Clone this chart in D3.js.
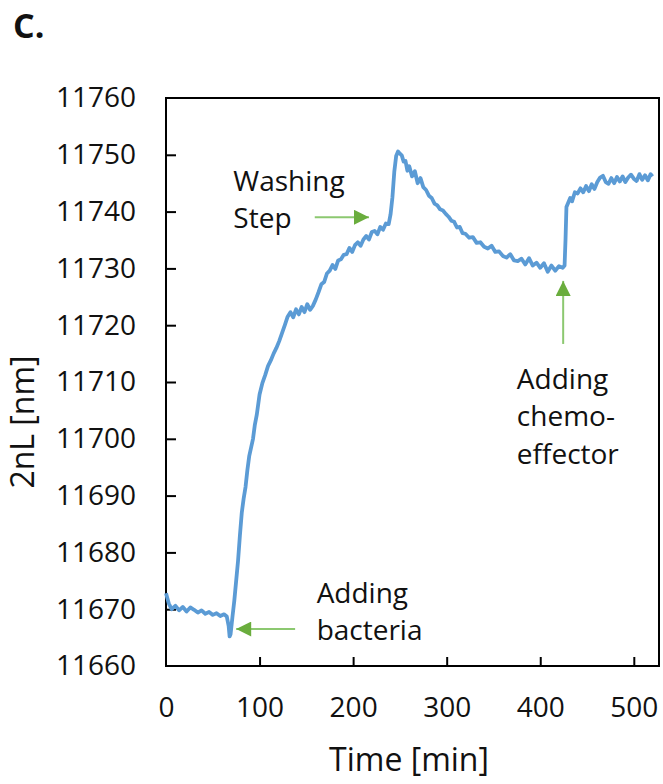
<!DOCTYPE html>
<html>
<head>
<meta charset="utf-8">
<script src="https://cdn.jsdelivr.net/npm/d3@7"></script>
<style>
  body { margin: 0; background: #fff; }
  text { font-family: "Open Sans", sans-serif; fill: #111; }
</style>
</head>
<body>
<script>

// DATI
//
var xTicks = [0, 100, 200, 300, 400, 500];
var yTicks = [11660, 11670, 11680, 11690, 11700, 11710, 11720, 11730, 11740, 11750, 11760];

// [tempo in min, 2nL in nm]
var trace = [
  [0, 11672.8], [3, 11671.0], [6, 11670.0], [10, 11670.6], [14, 11669.8], [18, 11670.4],
  [22, 11669.6], [26, 11670.3], [30, 11669.9], [34, 11669.4], [38, 11669.8], [42, 11669.2],
  [46, 11669.5], [50, 11669.0], [54, 11669.3], [58, 11668.8], [62, 11669.1], [65, 11668.7],
  [67, 11667.0], [68, 11665.2], [69, 11665.6], [71, 11668.6], [73, 11671.5], [75, 11675.0],
  [77, 11678.5], [79, 11683.0], [81, 11687.0], [83, 11689.5], [85, 11691.5], [87, 11694.5],
  [89, 11697.0], [91, 11698.5], [93, 11700.0], [95, 11702.5], [97, 11704.2], [100, 11707.8],
  [103, 11709.8], [106, 11711.2], [109, 11712.8], [112, 11713.8], [115, 11715.0], [118, 11716.0],
  [121, 11717.2], [124, 11718.6], [127, 11720.0], [130, 11721.5], [133, 11722.3], [136, 11721.4],
  [139, 11722.8], [142, 11721.9], [145, 11723.2], [148, 11722.3], [151, 11723.7], [154, 11722.7],
  [157, 11723.4], [160, 11724.5], [163, 11725.8], [166, 11727.2], [169, 11727.6], [172, 11729.1],
  [175, 11729.6], [178, 11730.6], [181, 11729.9], [184, 11731.4], [187, 11731.6], [190, 11732.4],
  [193, 11732.5], [196, 11733.6], [199, 11732.9], [202, 11734.1], [205, 11734.6], [208, 11734.0],
  [211, 11735.1], [214, 11735.7], [217, 11735.1], [220, 11736.4], [223, 11736.6], [226, 11736.0],
  [229, 11737.3], [232, 11736.8], [235, 11737.9], [238, 11737.8], [240, 11739.5], [242, 11742.5],
  [244, 11747.0], [246, 11749.8], [248, 11750.6], [250, 11750.2], [252, 11749.9], [254, 11748.8],
  [256, 11748.9], [258, 11747.2], [260, 11748.0], [263, 11746.2], [266, 11747.1], [269, 11745.0],
  [272, 11745.9], [275, 11744.3], [278, 11743.8], [281, 11742.8], [284, 11742.4], [287, 11741.4],
  [290, 11741.1], [293, 11740.4], [296, 11740.2], [299, 11739.6], [302, 11739.1], [305, 11738.4],
  [308, 11738.2], [311, 11737.2], [314, 11737.3], [317, 11736.2], [320, 11736.1], [324, 11735.4],
  [328, 11735.5], [332, 11734.5], [336, 11734.6], [340, 11733.8], [344, 11733.5], [348, 11734.0],
  [352, 11732.9], [356, 11733.0], [360, 11732.2], [364, 11731.9], [368, 11732.5], [372, 11731.4],
  [376, 11731.3], [380, 11731.7], [384, 11730.7], [388, 11731.8], [392, 11730.5], [396, 11731.0],
  [400, 11730.1], [404, 11730.9], [408, 11729.4], [412, 11730.5], [416, 11729.6], [420, 11730.4],
  [424, 11730.1], [426, 11730.5], [427, 11735.0], [428, 11740.8], [430, 11741.6], [432, 11742.4],
  [434, 11741.8], [437, 11743.4], [440, 11743.2], [443, 11744.1], [446, 11743.4], [449, 11744.5],
  [452, 11743.6], [455, 11744.8], [458, 11744.0], [461, 11745.2], [464, 11746.0], [467, 11746.3],
  [470, 11745.2], [473, 11744.9], [476, 11745.9], [479, 11745.0], [482, 11746.1], [485, 11745.3],
  [488, 11746.2], [491, 11745.2], [494, 11746.0], [497, 11746.5], [500, 11745.8], [503, 11745.4],
  [506, 11746.6], [509, 11745.6], [512, 11746.4], [515, 11745.5], [518, 11746.6], [520, 11746.2]
];

// ANNOTAZIONI: testo (prima riga) e freccia, in unita' dei dati
//
var notes = [
  { lines: ["Washing", "Step"], tx: 72, ty: 11743.7, from: [159, 11739.0], to: [217, 11739.0] },
  { lines: ["Adding", "bacteria"], tx: 161, ty: 11671.1, from: [138, 11666.5], to: [75, 11666.5] },
  { lines: ["Adding", "chemo-", "effector"], tx: 375, ty: 11708.8, from: [424.5, 11716.7], to: [424.5, 11727.8] }
];

var W = 663, H = 784;
var margin = { left: 166, right: 3, top: 98, bottom: 118 };

var svg = d3.select("body").append("svg")
  .attr("width", W)
  .attr("height", H);

var x = d3.scaleLinear().domain([0, 528]).range([margin.left, W - margin.right]);
var y = d3.scaleLinear().domain([11660, 11760]).range([H - margin.bottom, margin.top]);

// assi: tacche verso l'interno
var gx = svg.append("g")
  .attr("transform", "translate(0," + y(11660) + ")")
  .call(d3.axisBottom(x).tickValues(xTicks).tickSize(-9).tickPadding(31).tickFormat(d3.format("d")));

var gy = svg.append("g")
  .attr("transform", "translate(" + x(0) + ",0)")
  .call(d3.axisLeft(y).tickValues(yTicks).tickSize(-10).tickPadding(30).tickFormat(d3.format("d")));

[gx, gy].forEach(function(g) {
  g.select(".domain").remove();
  g.selectAll(".tick line").attr("stroke", "#000").attr("stroke-width", 2);
  g.selectAll(".tick text").attr("font-size", 28).attr("font-family", "Open Sans").attr("fill", "#111");
});
// niente tacca agli estremi
gy.selectAll(".tick line").filter(function(d) { return d == 11660 || d == 11760; }).remove();
gx.selectAll(".tick line").filter(function(d) { return d == 0; }).remove();

// cornice
svg.append("rect")
  .attr("x", x(0))
  .attr("y", y(11760))
  .attr("width", x.range()[1] - x(0) - 1)
  .attr("height", y(11660) - y(11760))
  .attr("fill", "none")
  .attr("stroke", "#000")
  .attr("stroke-width", 2);

// curva
var line = d3.line()
  .x(function(d) { return x(d[0]); })
  .y(function(d) { return y(d[1]); });

svg.append("path")
  .datum(trace)
  .attr("d", line)
  .attr("fill", "none")
  .attr("stroke", "#5b9bd5")
  .attr("stroke-width", 3.8)
  .attr("stroke-linejoin", "round");

// frecce verdi
svg.append("defs").append("marker")
  .attr("id", "head")
  .attr("viewBox", "0 0 10 10")
  .attr("refX", 10).attr("refY", 5)
  .attr("markerWidth", 8.5).attr("markerHeight", 7.5)
  .attr("markerUnits", "strokeWidth")
  .attr("orient", "auto")
  .append("path")
  .attr("d", "M0,0 L10,5 L0,10 Z")
  .attr("fill", "#6aad3d");

notes.forEach(function(n) {
  svg.append("line")
    .attr("x1", x(n.from[0])).attr("y1", y(n.from[1]))
    .attr("x2", x(n.to[0])).attr("y2", y(n.to[1]))
    .attr("stroke", "#8cc870")
    .attr("stroke-width", 2)
    .attr("marker-end", "url(#head)");

  var t = svg.append("text")
    .attr("x", x(n.tx))
    .attr("y", y(n.ty))
    .attr("font-size", 28);
  n.lines.forEach(function(s, i) {
    t.append("tspan").attr("x", x(n.tx)).attr("dy", i ? 37.5 : 0).text(s);
  });
});

// titoli assi
svg.append("text")
  .attr("x", (x(0) + x.range()[1]) / 2 - 4)
  .attr("y", 771)
  .attr("text-anchor", "middle")
  .attr("font-size", 32)
  .text("Time [min]");

svg.append("text")
  .attr("transform", "translate(34," + ((y(11660) + y(11760)) / 2 + 40) + ") rotate(-90)")
  .attr("text-anchor", "middle")
  .attr("font-size", 32)
  .text("2nL [nm]");

svg.append("text")
  .attr("x", 13)
  .attr("y", 38)
  .attr("font-family", "Liberation Sans, Arial, sans-serif")
  .attr("font-weight", "bold")
  .attr("font-size", 34)
  .text("C.");

</script>
</body>
</html>
